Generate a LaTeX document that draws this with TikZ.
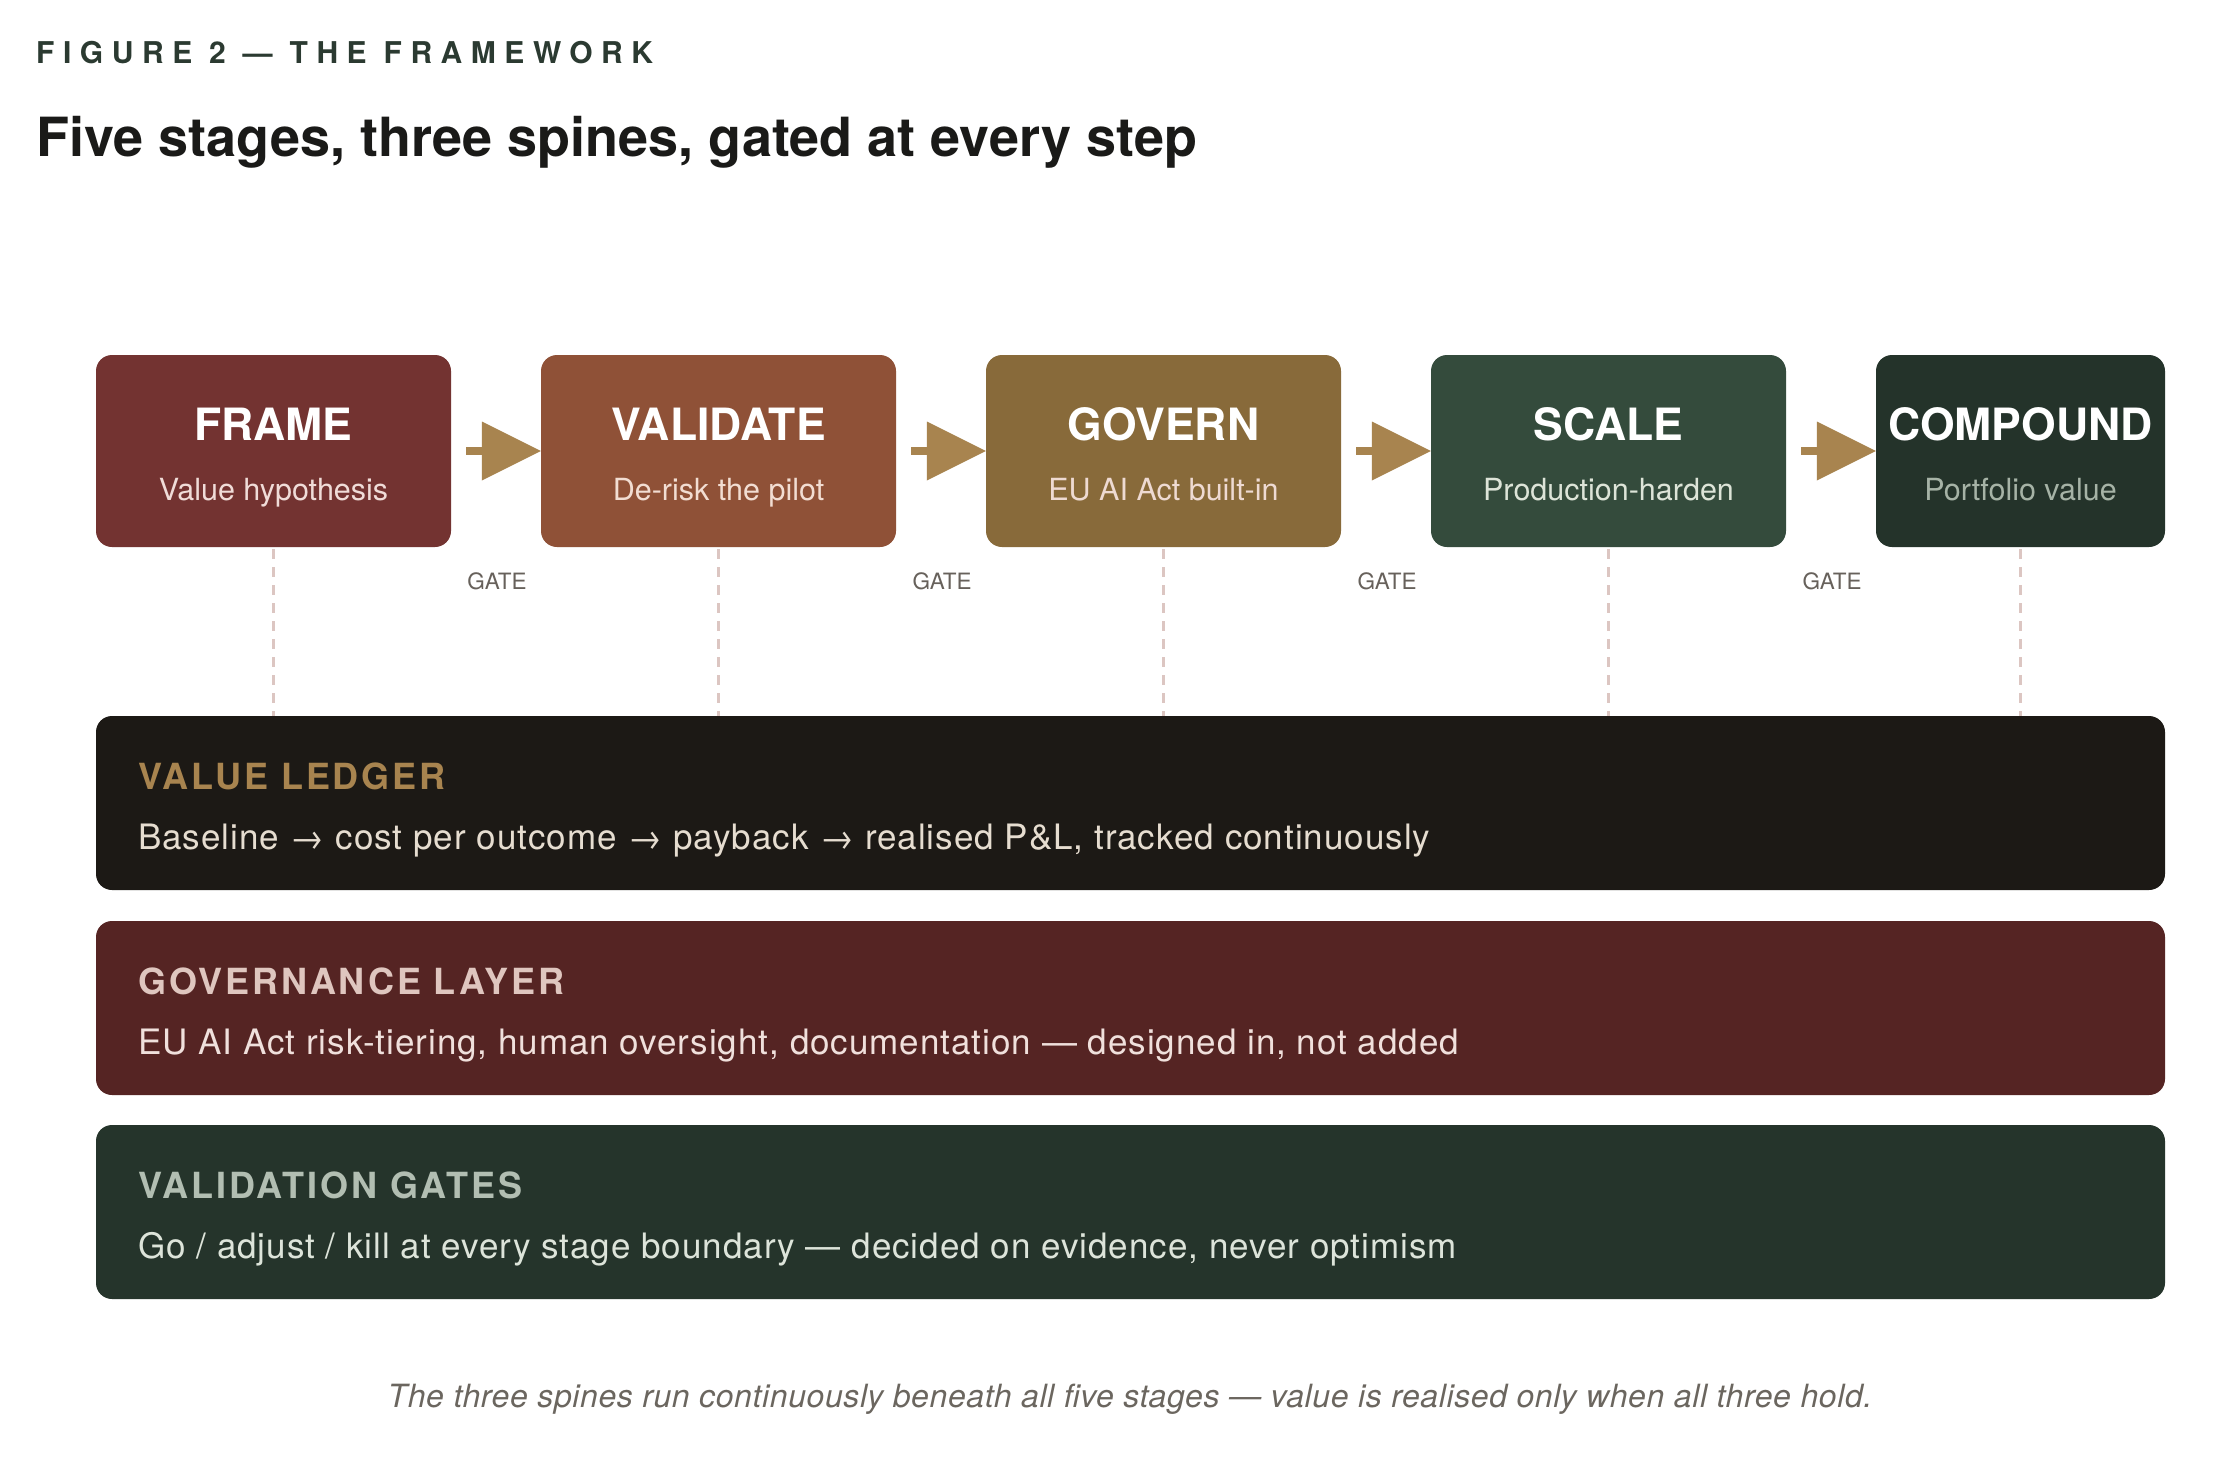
\documentclass[tikz,border=0pt]{standalone}
\usepackage{fontspec}
\setmainfont{TeX Gyre Heros}
\newfontfamily\hdrfont[LetterSpace=28.5]{TeX Gyre Heros}
\newfontfamily\spinefont[LetterSpace=8]{TeX Gyre Heros}
\newfontfamily\bodyfont[LetterSpace=2.8]{TeX Gyre Heros}
\newfontfamily\capfont[LetterSpace=1.9]{TeX Gyre Heros}
\definecolor{cHdr}{HTML}{2B3A31}
\definecolor{cTitle}{HTML}{1A1A18}
\definecolor{cFrame}{HTML}{733331}
\definecolor{cValidate}{HTML}{8F5137}
\definecolor{cGovern}{HTML}{886A3A}
\definecolor{cScale}{HTML}{344B3C}
\definecolor{cCompound}{HTML}{24332A}
\definecolor{sFrame}{HTML}{F0DCD8}
\definecolor{sValidate}{HTML}{F2DDD2}
\definecolor{sGovern}{HTML}{EEDAD2}
\definecolor{sScale}{HTML}{DDE4D8}
\definecolor{sCompound}{HTML}{A6B3A6}
\definecolor{cGold}{HTML}{A8844F}
\definecolor{cGate}{HTML}{67615B}
\definecolor{cDash}{HTML}{DCC6C2}
\definecolor{cLedger}{HTML}{1C1915}
\definecolor{cGovLayer}{HTML}{552423}
\definecolor{cGates}{HTML}{25342B}
\definecolor{hGov}{HTML}{DFC6BF}
\definecolor{hGates}{HTML}{B2BEB2}
\definecolor{bLedger}{HTML}{E6DDD0}
\definecolor{bGov}{HTML}{F0E0DC}
\definecolor{bGates}{HTML}{DDE4DA}
\definecolor{cCaption}{HTML}{6B665F}
\begin{document}
\begin{tikzpicture}[x=1pt,y=-1pt,
  stagebox/.style={rectangle, rounded corners=16pt, minimum width=355pt, minimum height=192pt, inner sep=0pt, draw=none},
  spinebox/.style={rectangle, rounded corners=16pt, minimum width=2069pt, minimum height=174pt, inner sep=0pt, draw=none},
  stitle/.style={anchor=base, inner sep=0pt, text=white, font=\bfseries\fontsize{44.5}{50}\selectfont},
  ssub/.style={anchor=base, inner sep=0pt, font=\fontsize{30.5}{36}\selectfont},
  gatelbl/.style={anchor=base, inner sep=0pt, text=cGate, font=\fontsize{22.5}{26}\selectfont},
  spinehdr/.style={anchor=base west, inner sep=0pt, font=\spinefont\bfseries\fontsize{36}{40}\selectfont},
  spinebody/.style={anchor=base west, inner sep=0pt, font=\bodyfont\fontsize{35}{40}\selectfont},
  stem/.style={draw=cGold, line width=8pt},
  head/.style={fill=cGold},
  dashline/.style={draw=cDash, line width=2.5pt, dash pattern=on 10pt off 8pt}
]
\fill[white] (0,0) rectangle (2228,1464);
\useasboundingbox (0,0) rectangle (2228,1464);

% headings
\node[anchor=base west, inner sep=0pt, text=cHdr, font=\hdrfont\bfseries\fontsize{30}{36}\selectfont] (fig) at (36,64) {FIGURE 2 — THE FRAMEWORK};
\node[anchor=base west, inner sep=0pt, text=cTitle, font=\bfseries\fontsize{54}{60}\selectfont] (title) at (36,156) {Five stages, three spines, gated at every step};

% stage boxes
\node[stagebox, fill=cFrame] (frame) at (273.5,451) {};
\node[stagebox, fill=cValidate] (validate) at (718.5,451) {};
\node[stagebox, fill=cGovern] (govern) at (1163.5,451) {};
\node[stagebox, fill=cScale] (scale) at (1608.5,451) {};
\node[stagebox, fill=cCompound, minimum width=289pt] (compound) at (2020.5,451) {};

\node[stitle] (frameT) at (273.5,440) {FRAME};
\node[ssub, text=sFrame] (frameS) at (273.5,500) {Value hypothesis};
\node[stitle] (validateT) at (718.5,440) {VALIDATE};
\node[ssub, text=sValidate] (validateS) at (718.5,500) {De-risk the pilot};
\node[stitle] (governT) at (1163.5,440) {GOVERN};
\node[ssub, text=sGovern] (governS) at (1163.5,500) {EU AI Act built-in};
\node[stitle] (scaleT) at (1608.5,440) {SCALE};
\node[ssub, text=sScale] (scaleS) at (1608.5,500) {Production-harden};
\node[stitle] (compoundT) at (2020.5,440) {COMPOUND};
\node[ssub, text=sCompound] (compoundS) at (2020.5,500) {Portfolio value};

% gate arrows
\foreach \a/\b in {frame/validate, validate/govern, govern/scale, scale/compound}{
  \draw[stem] ([xshift=15pt]\a.east) -- ([xshift=-57pt]\b.west);
  \fill[head] (\b.west) -- ([xshift=-59pt,yshift=29.5pt]\b.west) -- ([xshift=-59pt,yshift=-29.5pt]\b.west) -- cycle;
}
\node[gatelbl] (g1) at (497,589) {GATE};
\node[gatelbl] (g2) at (942,589) {GATE};
\node[gatelbl] (g3) at (1387,589) {GATE};
\node[gatelbl] (g4) at (1832,589) {GATE};

% spines
\node[spinebox, fill=cLedger] (ledger) at (1130.5,803) {};
\node[spinebox, fill=cGovLayer] (govlayer) at (1130.5,1008) {};
\node[spinebox, fill=cGates] (gates) at (1130.5,1212) {};

\node[spinehdr, text=cGold] (ledgerH) at (138,789) {VALUE LEDGER};
\node[spinebody, text=bLedger] (ledgerB) at (138,849) {Baseline → cost per outcome → payback → realised P\&L, tracked continuously};
\node[spinehdr, text=hGov] (govH) at (138,994) {GOVERNANCE LAYER};
\node[spinebody, text=bGov] (govB) at (138,1054) {EU AI Act risk-tiering, human oversight, documentation — designed in, not added};
\node[spinehdr, text=hGates] (gatesH) at (138,1198) {VALIDATION GATES};
\node[spinebody, text=bGates] (gatesB) at (138,1258) {Go / adjust / kill at every stage boundary — decided on evidence, never optimism};

% dashed drop lines
\foreach \s in {frame, validate, govern, scale, compound}{
  \draw[dashline] ([yshift=-2pt]\s.south) -- (\s.south |- ledger.north);
}

% caption
\node[anchor=base, inner sep=0pt, text=cCaption, font=\capfont\itshape\fontsize{32}{36}\selectfont] (caption) at (1130,1407) {The three spines run continuously beneath all five stages — value is realised only when all three hold.};
\end{tikzpicture}
\end{document}
